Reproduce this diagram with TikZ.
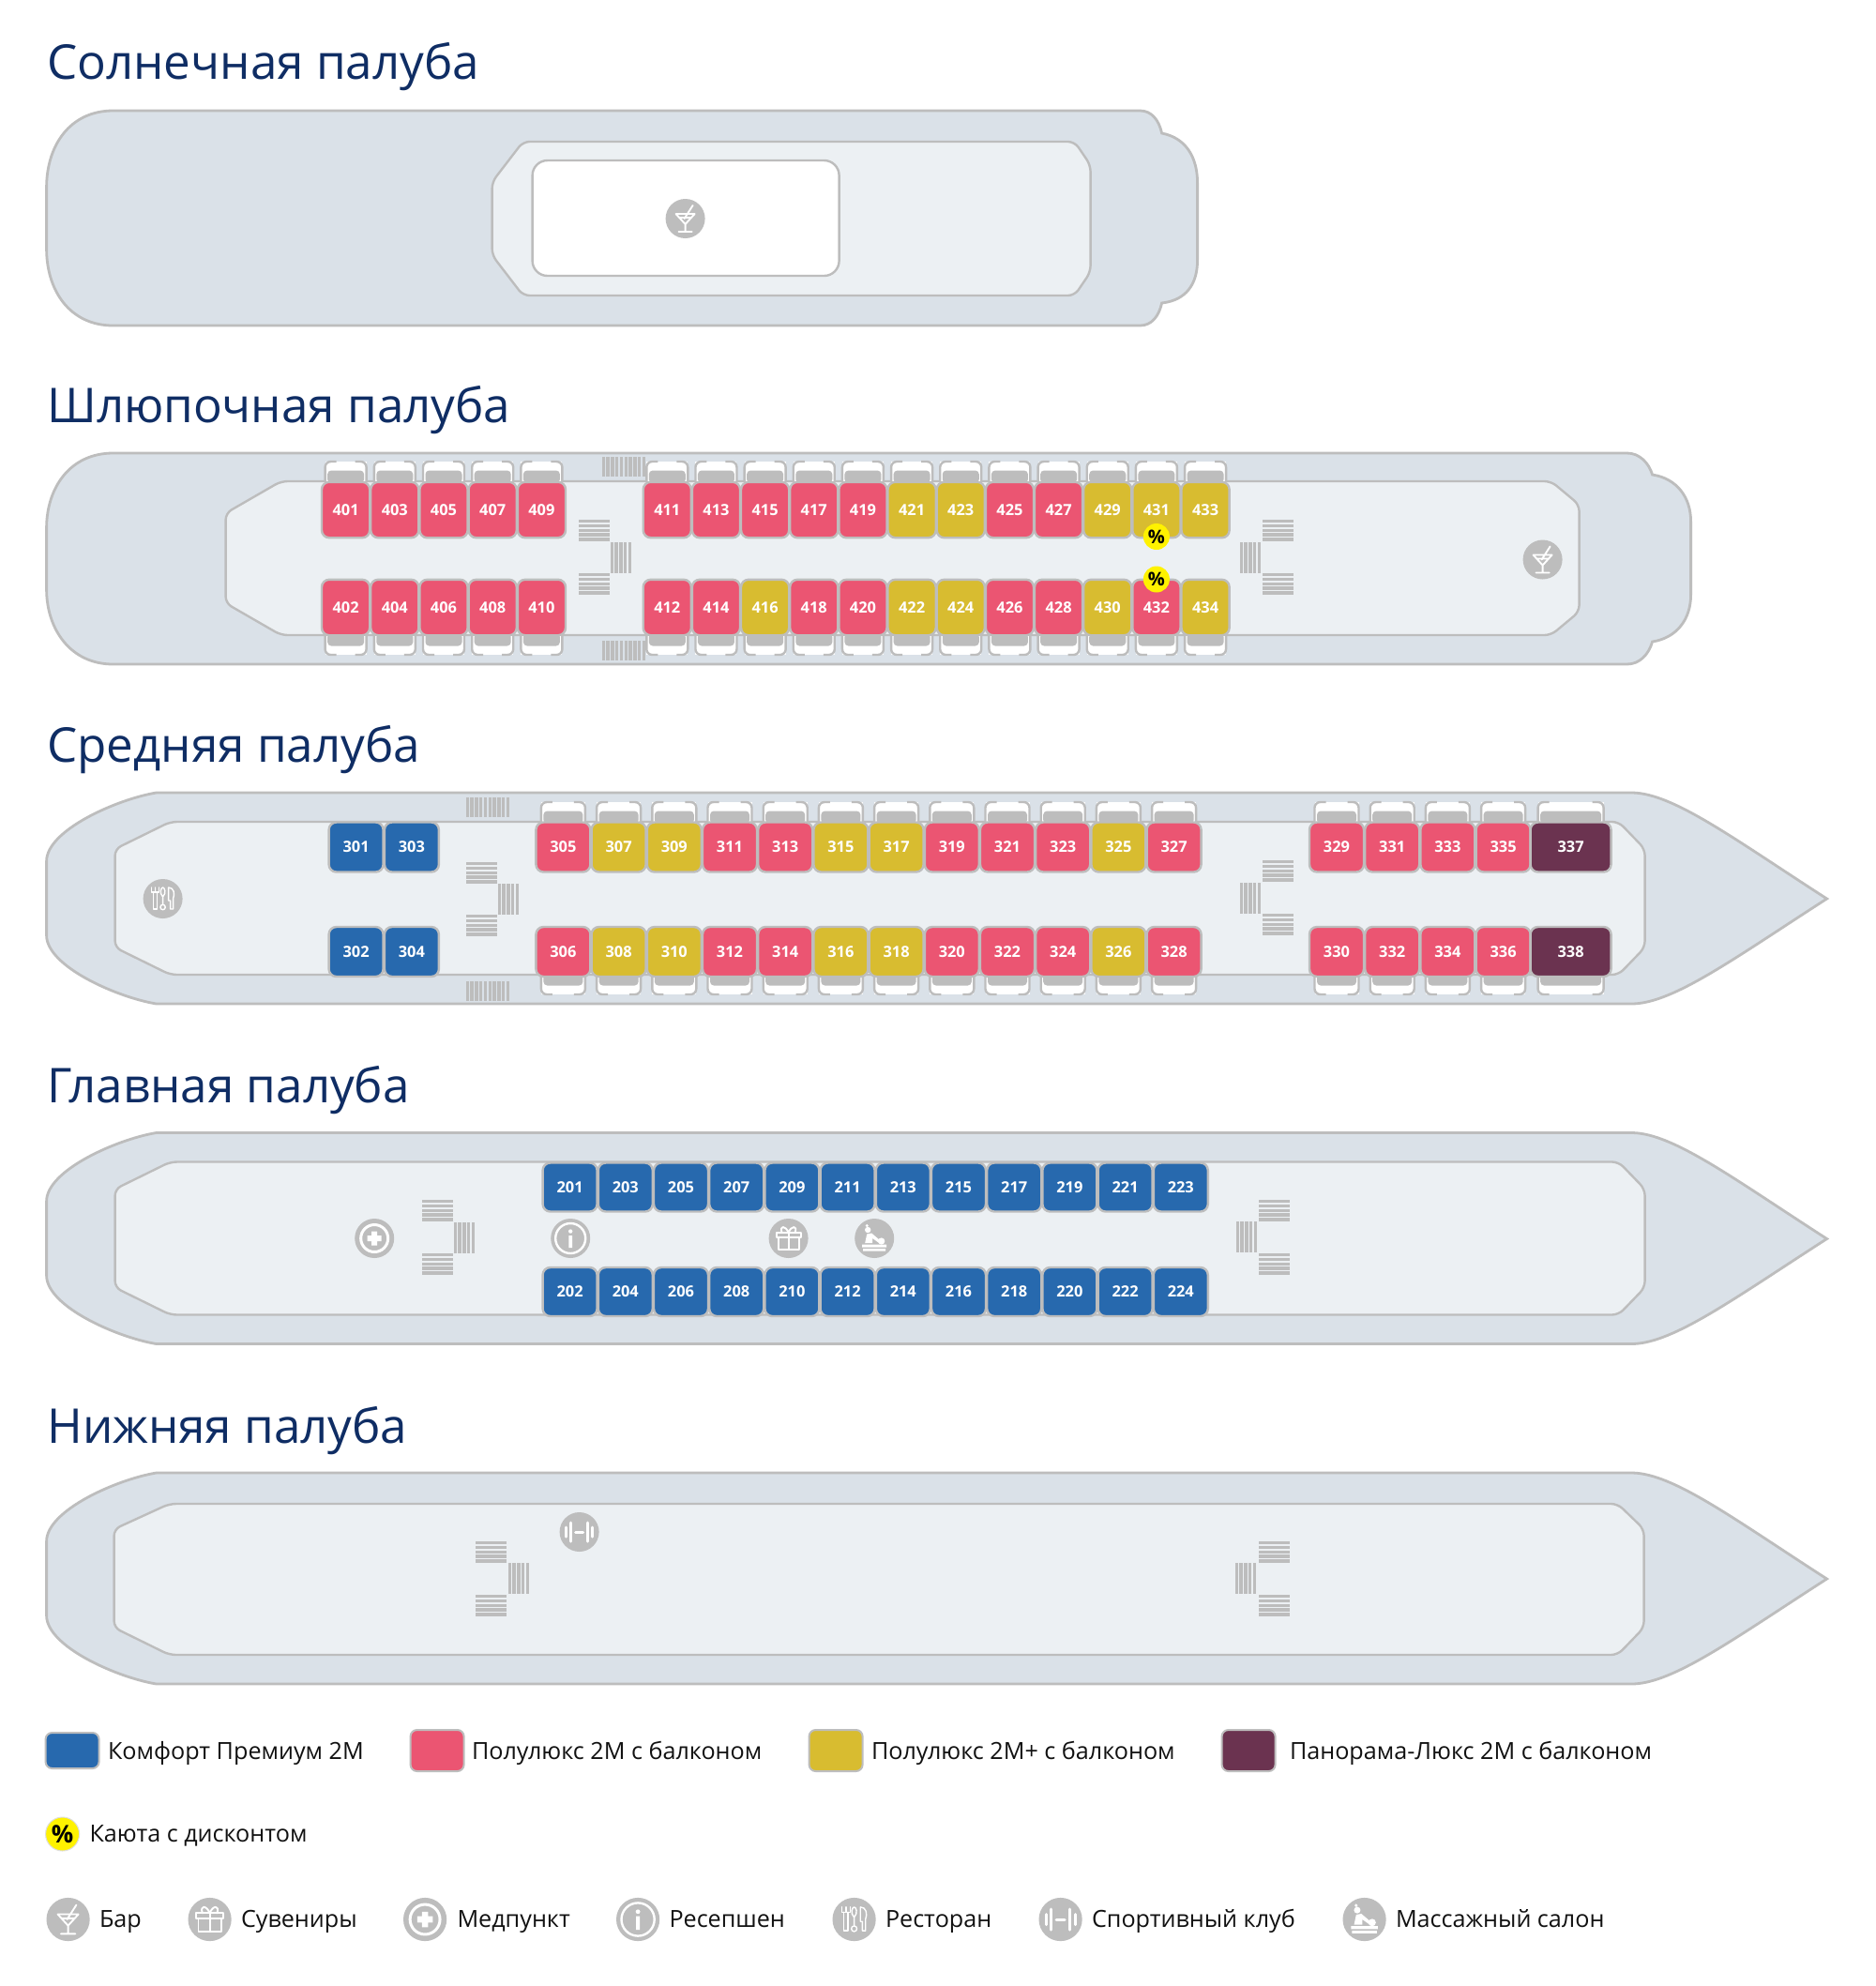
\documentclass[tikz,border=0pt]{standalone}
\usepackage{fontspec}
\setmainfont{Open Sans}
\definecolor{brd}{HTML}{BDBDBD}
\definecolor{deckc}{HTML}{DAE1E8}
\definecolor{innerc}{HTML}{ECF0F3}
\definecolor{bl}{HTML}{2769AE}
\definecolor{rd}{HTML}{EB5572}
\definecolor{ye}{HTML}{D8BC30}
\definecolor{pu}{HTML}{6B3350}
\definecolor{navy}{HTML}{0F2D64}
\definecolor{tx}{HTML}{111111}
\tikzset{
 deckshape/.style={draw=brd,fill=deckc,line width=1.4pt},
 innershape/.style={draw=brd,fill=innerc,line width=1.2pt,rounded corners=3.5pt},
 cabinbox/.style={draw=brd,line width=1.2pt,rounded corners=4pt,inner sep=0pt,outer sep=0pt,text=white,font=\fontsize{8.2}{10}\bfseries\selectfont},
 titletext/.style={anchor=base west,inner sep=0pt,text=navy,font=\fontsize{25.55}{30}\selectfont},
 legtext/.style={anchor=base west,inner sep=0pt,text=tx,font=\fontsize{12.58}{16}\selectfont},
 swatch/.style={draw=brd,line width=1pt,rounded corners=3.5pt},
 disc/.style={circle,fill=yellow,inner sep=0pt,minimum size=14pt,text=black,font=\fontsize{10}{10}\bfseries\selectfont},
 discbig/.style={circle,fill=yellow,draw=brd!50,line width=.5pt,inner sep=0pt,minimum size=18pt,text=black,font=\fontsize{13}{13}\bfseries\selectfont},
 stairbar/.style={fill=brd,draw=none},
 ico/.style={draw=white,line width=.95pt,line cap=round,line join=round},
}
% balcony: centre x, edge y, dir (1 = top row, -1 = bottom row), half width
\def\balc#1#2#3#4{%
 \begin{scope}[shift={(#1,#2)},yscale=#3]
  \fill[white] (-#4,0) rectangle (#4,-21);
  \fill[brd,rounded corners=2pt] (-#4+2.5,2) -- (-#4+2.5,-11.5) -- (#4-2.5,-11.5) -- (#4-2.5,2) -- cycle;
  \draw[brd,line width=1.2pt,rounded corners=3pt] (-#4,0) -- (-#4,-21) -- (-#4+12,-21);
  \draw[brd,line width=1.2pt,rounded corners=3pt] (#4,0) -- (#4,-21) -- (#4-12,-21);
 \end{scope}}
% horizontal bars stacked downwards
\def\stairH#1#2#3#4{\foreach \k in {1,...,#4}{\pgfmathsetmacro\yy{#3+(\k-1)*4.8}\fill[stairbar] (#1,\yy) rectangle (#2,\yy+3.3);}}
% vertical bars side by side
\def\stairV#1#2#3#4{\foreach \k in {1,...,#4}{\pgfmathsetmacro\xx{#1+(\k-1)*4.8}\fill[stairbar] (\xx,#2) rectangle (\xx+3.3,#3);}}
% icons: centre, scale
\def\icobg{\fill[brd] (0,0) circle (21);}
\def\icoBar#1#2#3{\begin{scope}[shift={(#1,#2)},scale=#3]\icobg
 \draw[ico] (-10,-5) -- (10,-5) -- (0,6) -- cycle (0,6) -- (0,14) (-7,14) -- (7,14) (8,-14) -- (-1,0) (-6,-1) -- (6,-1);
 \end{scope}}
\def\icoGift#1#2#3{\begin{scope}[shift={(#1,#2)},scale=#3]\icobg
 \draw[ico] (-13,-6) rectangle (13,-1) (-11,-1) rectangle (11,12) (0,-6) -- (0,12);
 \draw[ico] (0,-6) .. controls (-3,-14) and (-10,-14) .. (-7,-6) (0,-6) .. controls (3,-14) and (10,-14) .. (7,-6);
 \end{scope}}
\def\icoMed#1#2#3{\begin{scope}[shift={(#1,#2)},scale=#3]\icobg
 \draw[white,line width=1.5pt] (0,0) circle (14.5);
 \fill[white] (-3,-7.5) rectangle (3,7.5) (-7.5,-3) rectangle (7.5,3);
 \end{scope}}
\def\icoInfo#1#2#3{\begin{scope}[shift={(#1,#2)},scale=#3]\icobg
 \draw[white,line width=1.2pt] (0,0) circle (16);
 \fill[white] (0,-7.5) circle (2.2) (-1.8,-3) rectangle (1.8,10);
 \end{scope}}
\def\icoRest#1#2#3{\begin{scope}[shift={(#1,#2)},scale=#3]\icobg
 \draw[ico,line width=.7pt] (-12,-12) -- (-12,-7) -- (-4,-7) -- (-4,-12) (-8,-12) -- (-8,-7) (-10,-7) -- (-10,11) -- (-6,11) -- (-6,-7);
 \draw[ico,line width=.7pt] (0,-2) .. controls (-4,-6) and (-2,-12) .. (0,-12) .. controls (2,-12) and (4,-6) .. (0,-2) (0,-2) -- (0,6) (0,9) circle (2.7);
 \draw[ico,line width=.7pt] (6,-12) -- (6,2) -- (8,2) -- (8,11) -- (11,11) -- (11,0) .. controls (13,-5) and (12,-12) .. (6,-12);
 \end{scope}}
\def\icoGym#1#2#3{\begin{scope}[shift={(#1,#2)},scale=#3]\icobg
 \draw[ico,line width=1.5pt] (-14,-5) -- (-14,5) (14,-5) -- (14,5) (-9,-10) -- (-9,10) (9,-10) -- (9,10) (-4,0) -- (4,0);
 \end{scope}}
\def\icoMass#1#2#3{\begin{scope}[shift={(#1,#2)},scale=#3]\icobg
 \fill[white] (-7,-9) circle (3.2) (-8,-13.5) circle (1.6) (7.5,3) circle (3.6);
 \fill[white] (-10,5) -- (-8,-4.5) -- (-3,-5.5) -- (7,3) -- (5,5) -- (-2,0) -- (-2,5) -- cycle;
 \fill[white] (-13,6.5) -- (13,6.5) -- (13,9.5) -- (-13,9.5) -- cycle (-12,11) -- (12,11) -- (12,13.5) -- (-12,13.5) -- cycle;
 \end{scope}}
\def\shiphull{(167,845) -- (1741,845) .. controls (1785,846) and (1850,895) .. (1948,958) .. controls (1850,1021) and (1785,1069) .. (1741,1070) -- (167,1070) .. controls (125,1063) and (50,1030) .. (50,997) -- (50,918) .. controls (50,885) and (125,852) .. (167,845) -- cycle}
\def\shipinner{(182,876) -- (1726,876) -- (1754,905) -- (1754,1010) -- (1726,1039) -- (182,1039) -- (123,1010) -- (123,905) -- cycle}
\begin{document}
\begin{tikzpicture}[x=.5pt,y=-.5pt]
\useasboundingbox (0pt,0pt) rectangle (1000pt,-1058.5pt);
\fill[white] (0pt,0pt) rectangle (1000pt,-1058.5pt);
\begin{scope}[shift={(-.2pt,0pt)}]
% titles
\node[titletext] (t1) at (50.3,84) {Солнечная палуба};
\node[titletext] (t2) at (50.3,450) {Шлюпочная палуба};
\node[titletext] (t3) at (50.3,812) {Средняя палуба};
\node[titletext] (t4) at (50.3,1175) {Главная палуба};
\node[titletext] (t5) at (50.3,1538) {Нижняя палуба};
% sun deck
\draw[deckshape] (121,118) -- (1216,118) .. controls (1228,118) and (1236,128) .. (1239,142) .. controls (1265,147) and (1277,168) .. (1277,195) -- (1277,277) .. controls (1277,303) and (1265,320) .. (1239,323) .. controls (1236,337) and (1228,347) .. (1216,347) -- (121,347) .. controls (75,347) and (50,310) .. (50,265) -- (50,200) .. controls (50,155) and (75,118) .. (121,118) -- cycle;
\draw[innershape] (558,151) -- (1146,151) -- (1163,176) -- (1163,290) -- (1146,315) -- (558,315) -- (525,272) -- (525,194) -- cycle;
\draw[draw=brd,fill=white,line width=1.2pt,rounded corners=8pt] (568,171) rectangle (895,294);
\icoBar{731}{233}{1}
% boat deck
\draw[deckshape] (121,483) -- (1735,483) .. controls (1748,483) and (1758,493) .. (1762,506) .. controls (1788,510) and (1803,530) .. (1803,556) -- (1803,634) .. controls (1803,660) and (1788,680) .. (1762,684) .. controls (1758,698) and (1748,708) .. (1735,708) -- (121,708) .. controls (75,708) and (50,670) .. (50,628) -- (50,563) .. controls (50,520) and (75,483) .. (121,483) -- cycle;
\draw[innershape] (300,513) -- (1654,513) -- (1684,538) -- (1684,652) -- (1654,677) -- (300,677) -- (241,643) -- (241,547) -- cycle;
\stairV{642}{487}{508}{10}
\stairV{642}{683}{704}{10}
\stairH{617}{650}{554}{5}
\stairH{617}{650}{611}{5}
\stairV{651}{578}{611}{5}
\stairV{1322}{578}{611}{5}
\stairH{1346}{1379}{554}{5}
\stairH{1346}{1379}{611}{5}
\foreach \i in {0,...,4}{\pgfmathsetmacro\cx{369+52.2*\i}\balc{\cx}{513}{1}{22}\balc{\cx}{677}{-1}{22}}
\foreach \i in {0,...,11}{\pgfmathsetmacro\cx{711.7+52.16*\i}\balc{\cx}{513}{1}{22}\balc{\cx}{677}{-1}{22}}
\foreach \n/\c [count=\i from 0] in {401/rd,403/rd,405/rd,407/rd,409/rd}{\pgfmathsetmacro\cx{369+52.2*\i}
 \node[cabinbox,fill=\c,minimum width=25.6pt,minimum height=29.7pt] (c\n) at (\cx,543.5) {\n};}
\foreach \n/\c [count=\i from 0] in {402/rd,404/rd,406/rd,408/rd,410/rd}{\pgfmathsetmacro\cx{369+52.2*\i}
 \node[cabinbox,fill=\c,minimum width=25.6pt,minimum height=29.7pt] (c\n) at (\cx,647.5) {\n};}
\foreach \n/\c [count=\i from 0] in {411/rd,413/rd,415/rd,417/rd,419/rd,421/ye,423/ye,425/rd,427/rd,429/ye,431/ye,433/ye}{\pgfmathsetmacro\cx{711.7+52.16*\i}
 \node[cabinbox,fill=\c,minimum width=25.6pt,minimum height=29.7pt] (c\n) at (\cx,543.5) {\n};}
\foreach \n/\c [count=\i from 0] in {412/rd,414/rd,416/ye,418/rd,420/rd,422/ye,424/ye,426/rd,428/rd,430/ye,432/rd,434/ye}{\pgfmathsetmacro\cx{711.7+52.16*\i}
 \node[cabinbox,fill=\c,minimum width=25.6pt,minimum height=29.7pt] (c\n) at (\cx,647.5) {\n};}
\node[disc] (d431) at (1233.3,572) {\%};
\node[disc] (d432) at (1233.3,617.5) {\%};
\icoBar{1645}{596.5}{1}
% middle deck
\draw[deckshape] \shiphull;
\draw[innershape] \shipinner;
\stairV{497}{850}{871}{10}
\stairV{497}{1046}{1067}{10}
\stairH{497}{530}{919}{5}
\stairH{497}{530}{975}{5}
\stairV{531}{942}{975}{5}
\stairV{1322}{941}{974}{5}
\stairH{1346}{1379}{917}{5}
\stairH{1346}{1379}{974}{5}
\foreach \i in {0,...,11}{\pgfmathsetmacro\cx{600.8+59.2*\i}\balc{\cx}{876}{1}{23.5}\balc{\cx}{1039}{-1}{23.5}}
\foreach \i in {0,...,3}{\pgfmathsetmacro\cx{1425.4+59.2*\i}\balc{\cx}{876}{1}{23.5}\balc{\cx}{1039}{-1}{23.5}}
\balc{1675}{876}{1}{35}\balc{1675}{1039}{-1}{35}
\foreach \n/\c [count=\i from 0] in {301/bl,303/bl}{\pgfmathsetmacro\cx{380+59.3*\i}
 \node[cabinbox,fill=\c,minimum width=29pt,minimum height=26.5pt] (c\n) at (\cx,903) {\n};}
\foreach \n/\c [count=\i from 0] in {302/bl,304/bl}{\pgfmathsetmacro\cx{380+59.3*\i}
 \node[cabinbox,fill=\c,minimum width=29pt,minimum height=26.5pt] (c\n) at (\cx,1014.5) {\n};}
\foreach \n/\c [count=\i from 0] in {305/rd,307/ye,309/ye,311/rd,313/rd,315/ye,317/ye,319/rd,321/rd,323/rd,325/ye,327/rd}{\pgfmathsetmacro\cx{600.8+59.2*\i}
 \node[cabinbox,fill=\c,minimum width=29pt,minimum height=26.5pt] (c\n) at (\cx,903) {\n};}
\foreach \n/\c [count=\i from 0] in {306/rd,308/ye,310/ye,312/rd,314/rd,316/ye,318/ye,320/rd,322/rd,324/rd,326/ye,328/rd}{\pgfmathsetmacro\cx{600.8+59.2*\i}
 \node[cabinbox,fill=\c,minimum width=29pt,minimum height=26.5pt] (c\n) at (\cx,1014.5) {\n};}
\foreach \n/\c [count=\i from 0] in {329/rd,331/rd,333/rd,335/rd}{\pgfmathsetmacro\cx{1425.4+59.2*\i}
 \node[cabinbox,fill=\c,minimum width=29pt,minimum height=26.5pt] (c\n) at (\cx,903) {\n};}
\foreach \n/\c [count=\i from 0] in {330/rd,332/rd,334/rd,336/rd}{\pgfmathsetmacro\cx{1425.4+59.2*\i}
 \node[cabinbox,fill=\c,minimum width=29pt,minimum height=26.5pt] (c\n) at (\cx,1014.5) {\n};}
\node[cabinbox,fill=pu,minimum width=43pt,minimum height=26.5pt] (c337) at (1675,903) {337};
\node[cabinbox,fill=pu,minimum width=43pt,minimum height=26.5pt] (c338) at (1675,1014.5) {338};
\icoRest{174}{958}{1}
% main deck
\begin{scope}[shift={(0,362.5)}]
\draw[deckshape] \shiphull;
\draw[innershape] \shipinner;
\end{scope}
\stairH{450}{483}{1279}{5}
\stairH{450}{483}{1336}{5}
\stairV{484}{1303}{1336}{5}
\stairV{1318}{1302}{1335}{5}
\stairH{1342}{1375}{1279}{5}
\stairH{1342}{1375}{1336}{5}
\foreach \n [count=\i from 0] in {201,203,205,207,209,211,213,215,217,219,221,223}{\pgfmathsetmacro\cx{608+59.2*\i}
 \node[cabinbox,fill=bl,minimum width=29pt,minimum height=26pt] (c\n) at (\cx,1265.5) {\n};}
\foreach \n [count=\i from 0] in {202,204,206,208,210,212,214,216,218,220,222,224}{\pgfmathsetmacro\cx{608+59.2*\i}
 \node[cabinbox,fill=bl,minimum width=29pt,minimum height=26pt] (c\n) at (\cx,1377) {\n};}
\icoMed{399.6}{1320}{1}
\icoInfo{608.6}{1320}{1}
\icoGift{841}{1320}{1}
\icoMass{932.6}{1320}{1}
% lower deck
\begin{scope}[shift={(0,725)}]
\draw[deckshape] \shiphull;
\draw[innershape] (181,878) -- (1725,878) -- (1753,905) -- (1753,1010) -- (1725,1039) -- (181,1039) -- (122,1010) -- (122,905) -- cycle;
\end{scope}
\stairH{507}{540}{1643}{5}
\stairH{507}{540}{1700}{5}
\stairV{542}{1666}{1699}{5}
\stairV{1317}{1666}{1699}{5}
\stairH{1342}{1375}{1643}{5}
\stairH{1342}{1375}{1700}{5}
\icoGym{618}{1633}{1}
% legend
\draw[swatch,fill=bl] (49,1847) rectangle (106,1885);
\draw[swatch,fill=rd] (438,1844) rectangle (495,1888);
\draw[swatch,fill=ye] (863,1844) rectangle (920,1888);
\draw[swatch,fill=pu] (1303,1844) rectangle (1360,1888);
\node[legtext] (l1) at (115,1875) {Комфорт Премиум 2М};
\node[legtext] (l2) at (503,1875) {Полулюкс 2М с балконом};
\node[legtext] (l3) at (929,1875) {Полулюкс 2М+ с балконом};
\node[legtext] (l4) at (1375,1875) {Панорама-Люкс 2М с балконом};
\node[discbig] (l5) at (67,1955) {\%};
\node[legtext] (l6) at (95.5,1963) {Каюта с дисконтом};
\icoBar{73}{2046}{1.1}
\node[legtext] (l7) at (106,2054) {Бар};
\icoGift{224}{2046}{1.1}
\node[legtext] (l8) at (257,2054) {Сувениры};
\icoMed{453.5}{2046}{1.1}
\node[legtext] (l9) at (487.5,2054) {Медпункт};
\icoInfo{680.5}{2046}{1.1}
\node[legtext] (l10) at (713.5,2054) {Ресепшен};
\icoRest{911}{2046}{1.1}
\node[legtext] (l11) at (944,2054) {Ресторан};
\icoGym{1131}{2046}{1.1}
\node[legtext] (l12) at (1164,2054) {Спортивный клуб};
\icoMass{1455}{2046}{1.1}
\node[legtext] (l13) at (1488,2054) {Массажный салон};
\end{scope}
\end{tikzpicture}
\end{document}
